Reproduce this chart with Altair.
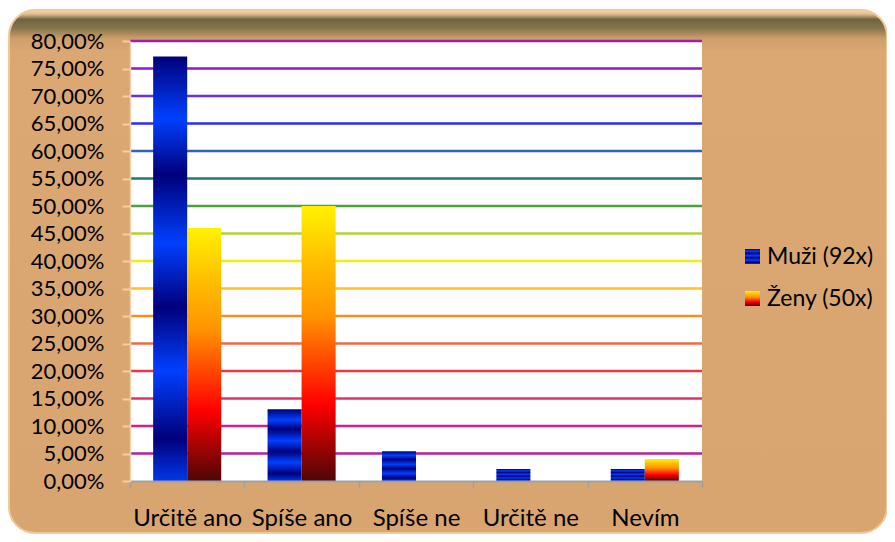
import altair as alt
import pandas as pd

# ---------------- data ----------------
CATEGORIES = ["Určitě ano", "Spíše ano", "Spíše ne", "Určitě ne", "Nevím"]
SERIES = ["Muži (92x)", "Ženy (50x)"]
MUZI = [0.7717, 0.1304, 0.0543, 0.0217, 0.0217]
ZENY = [0.46, 0.50, 0.0, 0.0, 0.04]
Y_TICKS = [0.0, 0.05, 0.10, 0.15, 0.20, 0.25, 0.30, 0.35, 0.40,
           0.45, 0.50, 0.55, 0.60, 0.65, 0.70, 0.75, 0.80]
GRID_LINES = Y_TICKS[1:]
GRID_COLORS = ["#b4209e", "#d0208a", "#e2306a", "#e83848", "#ef6a45", "#fb8c22",
               "#ffc21e", "#f4ec1a", "#b2d23c", "#4ca23e", "#1f7a72", "#3062c0",
               "#2c2cf0", "#6a2ee0", "#8a1ad0", "#9c1fb0"]

rows = []
for c, m, z in zip(CATEGORIES, MUZI, ZENY):
    rows.append({"cat": c, "serie": SERIES[0], "value": m})
    rows.append({"cat": c, "serie": SERIES[1], "value": z})
df = pd.DataFrame(rows)
grid_df = pd.DataFrame({"value": GRID_LINES, "col": GRID_COLORS})

W, H = 572, 440
FONT = "Lato"

def grad(stops):
    return alt.Gradient(gradient="linear", x1=0, x2=0, y1=0, y2=1,
                        stops=[alt.GradientStop(color=c, offset=o) for o, c in stops])

muzi_fill = grad([(0.0, "#00007a"), (0.146, "#0040ff"), (0.28, "#00007a"),
                  (0.44, "#0040ff"), (0.59, "#00007a"), (0.74, "#0040ff"),
                  (0.90, "#00007a"), (1.0, "#0038e8")])
zeny_fill = grad([(0.0, "#fff200"), (0.2, "#ffc000"), (0.4, "#ff9400"),
                  (0.72, "#ff0000"), (1.0, "#4e0606")])
frame_fill = grad([(0.0, "#f6d8b4"), (0.008, "#e2bb8c"), (0.018, "#6e6442"),
                   (0.035, "#85754d"), (0.055, "#cf9f6b"), (0.08, "#dba874"),
                   (1.0, "#d8a571")])

one = pd.DataFrame({"a": [0]})

frame = alt.Chart(one).mark_rect(fill=frame_fill, cornerRadius=26, stroke="#f0c89c",
                                 strokeWidth=2).encode(
    x=alt.value(-121), x2=alt.value(W + 185), y=alt.value(-31), y2=alt.value(H + 52))
plotbg = alt.Chart(one).mark_rect(fill="white").encode(
    x=alt.value(0), x2=alt.value(W), y=alt.value(0), y2=alt.value(H))

y_scale = alt.Scale(domain=[0, 0.8], nice=False, zero=True)
y_axis = alt.Axis(values=Y_TICKS, grid=False,
                  labelExpr="replace(format(datum.value*100, '.2f'), '.', ',') + '%'",
                  labelFont=FONT, labelFontSize=22, labelColor="black",
                  labelPadding=18, tickColor="#f8cc9e", tickSize=8, tickWidth=2,
                  domainColor="#f3d3ae", domainWidth=1.5, zindex=2)
y_enc = alt.Y("value:Q", scale=y_scale, title=None, axis=y_axis)

grid = alt.Chart(grid_df).mark_rule(strokeWidth=2.5).encode(
    y=y_enc,
    color=alt.Color("col:N", scale=None),
)

x_enc = alt.X("cat:N", sort=CATEGORIES, title=None,
              scale=alt.Scale(paddingInner=0, paddingOuter=0),
              axis=alt.Axis(tickBand="extent", labelAngle=0, labelFont=FONT,
                            labelFontSize=24, labelColor="black", labelPadding=18,
                            domainColor="#a0a0a0", domainWidth=2, tickColor="#a0a0a0",
                            tickWidth=1.5, tickSize=7, zindex=2))
xo_enc = alt.XOffset("serie:N", sort=SERIES,
                     scale=alt.Scale(domain=SERIES, paddingInner=0, paddingOuter=0.68))

base = alt.Chart(df).encode(x=x_enc, xOffset=xo_enc, y=y_enc)
bars_m = base.transform_filter(alt.datum.serie == SERIES[0]).mark_bar(fill=muzi_fill)
bars_z = base.transform_filter((alt.datum.serie == SERIES[1]) & (alt.datum.value > 0)).mark_bar(fill=zeny_fill)

leg_sw_m = alt.Chart(one).mark_rect(fill=muzi_fill).encode(
    x=alt.value(W + 43), x2=alt.value(W + 58), y=alt.value(208), y2=alt.value(223))
leg_sw_z = alt.Chart(one).mark_rect(fill=zeny_fill).encode(
    x=alt.value(W + 43), x2=alt.value(W + 58), y=alt.value(250), y2=alt.value(265))
leg_t_m = alt.Chart(one).mark_text(text=SERIES[0], align="left", baseline="middle",
                                   font=FONT, fontSize=23, color="black").encode(
    x=alt.value(W + 65), y=alt.value(216))
leg_t_z = alt.Chart(one).mark_text(text=SERIES[1], align="left", baseline="middle",
                                   font=FONT, fontSize=23, color="black").encode(
    x=alt.value(W + 65), y=alt.value(258))

chart = alt.layer(frame, plotbg, grid, bars_m, bars_z,
                  leg_sw_m, leg_sw_z, leg_t_m, leg_t_z).properties(
    width=W, height=H,
    autosize=alt.AutoSizeParams(type="none"),
    padding={"left": 122, "top": 33, "right": 185, "bottom": 53},
).configure_view(stroke=None, fill=None).configure(background="white")

chart.save("out.html", embed_options={"renderer": "svg", "actions": False})
